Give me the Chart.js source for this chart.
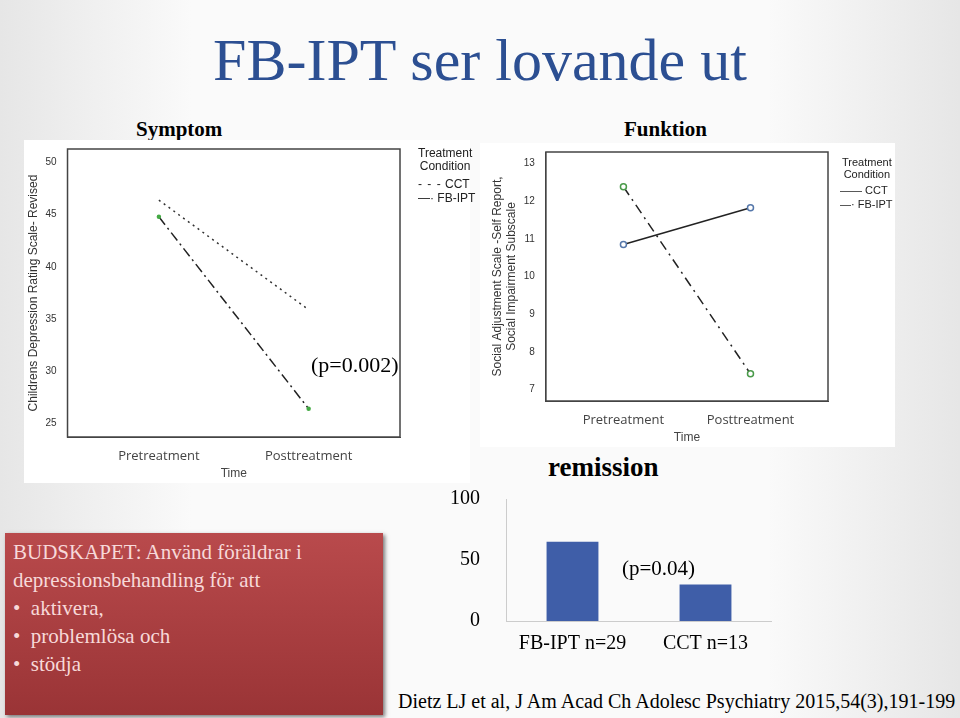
<!DOCTYPE html>
<html><head><meta charset="utf-8">
<script src="https://cdn.jsdelivr.net/npm/chart.js@4"></script>
<style>
body{margin:0;width:960px;height:718px;overflow:hidden;background:linear-gradient(90deg,#e6e6e6,#fafafa 20%,#fafafa 80%,#e6e6e6);position:relative;font-family:"Liberation Serif",serif}
.a{position:absolute}
.box{background:#fff}
.sp{font-family:"Liberation Sans",Arial,sans-serif;color:#222}
</style></head><body>
<div class="a" style="left:0;top:26px;width:960px;text-align:center;font-size:60px;color:#2c4f92;">FB-IPT ser lovande ut</div>
<div class="a" style="left:136px;top:117px;font-size:21px;font-weight:bold">Symptom</div>
<div class="a" style="left:624px;top:117px;font-size:21px;font-weight:bold">Funktion</div>
<div class="a box" style="left:24px;top:140px;width:446px;height:343px"></div>
<div class="a box" style="left:480px;top:143px;width:415px;height:304px"></div>
<div class="a" style="left:24px;top:140px;width:446px;height:343px"><canvas id="c1"></canvas></div>
<div class="a" style="left:480px;top:143px;width:415px;height:304px"><canvas id="c2"></canvas></div>
<div class="a sp" style="left:418px;top:147px;font-size:12px;line-height:13px;text-align:center">Treatment<br>Condition</div>
<div class="a sp" style="left:418px;top:177px;font-size:12px;line-height:14px"><span style="letter-spacing:1px">- - -</span> CCT<br>—· FB-IPT</div>
<div class="a sp" style="left:842px;top:156px;font-size:11px;line-height:12px;text-align:center">Treatment<br>Condition</div>
<div class="a sp" style="left:840px;top:183px;font-size:11px;line-height:14px">—— CCT<br>—· FB-IPT</div>
<div class="a" style="left:311px;top:352px;font-size:22px;">(p=0.002)</div>
<div class="a" style="left:548px;top:452px;font-size:27px;font-weight:bold">remission</div>
<div class="a" style="left:432px;top:469px;width:340px;height:190px"><canvas id="c3"></canvas></div>
<div class="a" style="left:622px;top:556px;font-size:21px">(p=0.04)</div>
<div class="a" style="left:5px;top:533px;width:378px;height:182px;background:linear-gradient(#b94a4c,#9a3436);box-shadow:2px 2px 4px #777;color:#f7d9d9;font-family:'Liberation Serif',serif;font-size:21px;line-height:28px;padding:5px 8px;box-sizing:border-box">
BUDSKAPET: Använd föräldrar i depressionsbehandling för att<br>
• &nbsp;aktivera,<br>• &nbsp;problemlösa och<br>• &nbsp;stödja</div>
<div class="a" style="left:398px;top:690px;font-size:20px">Dietz LJ et al, J Am Acad Ch Adolesc Psychiatry 2015,54(3),191-199</div>
<script>
const timeLabels=["Pretreatment","Posttreatment"];
const sympCCT=[46.4,35.9];
const sympFB=[44.8,26.4];
const funkCCT=[10.85,11.82];
const funkFB=[12.38,7.42];
const barCats=["FB-IPT n=29","CCT n=13"];
const barVals=[65,30];
Chart.defaults.animation=false;
function pts(v){return v.map((y,i)=>({x:i,y}))}
const frame={id:'frame',afterDraw(c){const a=c.chartArea,x=c.ctx;x.save();x.strokeStyle='#444';x.lineWidth=1.5;x.strokeRect(a.left,a.top,a.right-a.left,a.bottom-a.top);x.restore();}};
function lineChart(id,ds,ymin,ymax,ystep,ytitle,pad){
 new Chart(document.getElementById(id),{type:'line',data:{datasets:ds},plugins:[frame],
 options:{responsive:true,maintainAspectRatio:false,layout:{padding:pad},
 plugins:{legend:{display:false},tooltip:{enabled:false}},
 scales:{x:{type:'linear',min:-0.61,max:1.61,grid:{display:false,drawOnChartArea:false},border:{color:'#444'},
   afterBuildTicks:a=>{a.ticks=[{value:0},{value:1}]},
   ticks:{callback:v=>timeLabels[v],color:'#444',font:{family:'Open Sans',size:13}},
   title:{display:true,text:'Time',color:'#444',font:{family:'Liberation Sans',size:12},padding:0}},
  y:{min:ymin,max:ymax,grid:{display:false},border:{color:'#444'},
   afterBuildTicks:a=>{let t=[];for(let v=Math.ceil(ymin/ystep)*ystep;v<=ymax;v+=ystep)t.push({value:v});a.ticks=t},
   ticks:{color:'#333',font:{family:'Liberation Sans',size:10}},
   title:{display:true,text:ytitle,color:'#333',font:{family:'Liberation Sans',size:12},padding:2}}}}});
}
lineChart('c1',[
 {data:pts(sympCCT),borderColor:'#333',borderWidth:1.5,borderDash:[2,4],pointRadius:0},
 {data:pts(sympFB),borderColor:'#222',borderWidth:1.5,borderDash:[10,4,2,4],pointRadius:1.5,pointBackgroundColor:'#4a4',pointBorderColor:'#4a4'}
],23.7,51.3,5,'Childrens Depression Rating Scale- Revised',{left:0,right:70,top:3,bottom:2});
lineChart('c2',[
 {data:pts(funkCCT),borderColor:'#222',borderWidth:1.5,pointRadius:3,pointBackgroundColor:'#fff',pointBorderColor:'#5577aa'},
 {data:pts(funkFB),borderColor:'#222',borderWidth:1.5,borderDash:[10,5,2,5],pointRadius:3,pointBackgroundColor:'#fff',pointBorderColor:'#4a9a4a'}
],6.7,13.3,1,['Social Adjustment Scale -Self Report,','Social Impairment Subscale'],{left:8,right:67,top:3,bottom:2});
new Chart(document.getElementById('c3'),{type:'bar',data:{labels:barCats,datasets:[{data:barVals,backgroundColor:'#3f5ea8',barPercentage:0.5,categoryPercentage:0.78}]},
 options:{responsive:true,maintainAspectRatio:false,layout:{padding:{top:17,right:0}},
 plugins:{legend:{display:false},tooltip:{enabled:false}},
 scales:{x:{grid:{display:false},border:{color:'#ccc'},ticks:{color:'#000',font:{family:'Liberation Serif',size:20}}},
  y:{min:0,max:100,grid:{display:false},border:{color:'#ccc'},afterBuildTicks:a=>{a.ticks=[{value:0},{value:50},{value:100}]},ticks:{color:'#000',padding:18,font:{family:'Liberation Serif',size:20}}}}}});
</script></body></html>
